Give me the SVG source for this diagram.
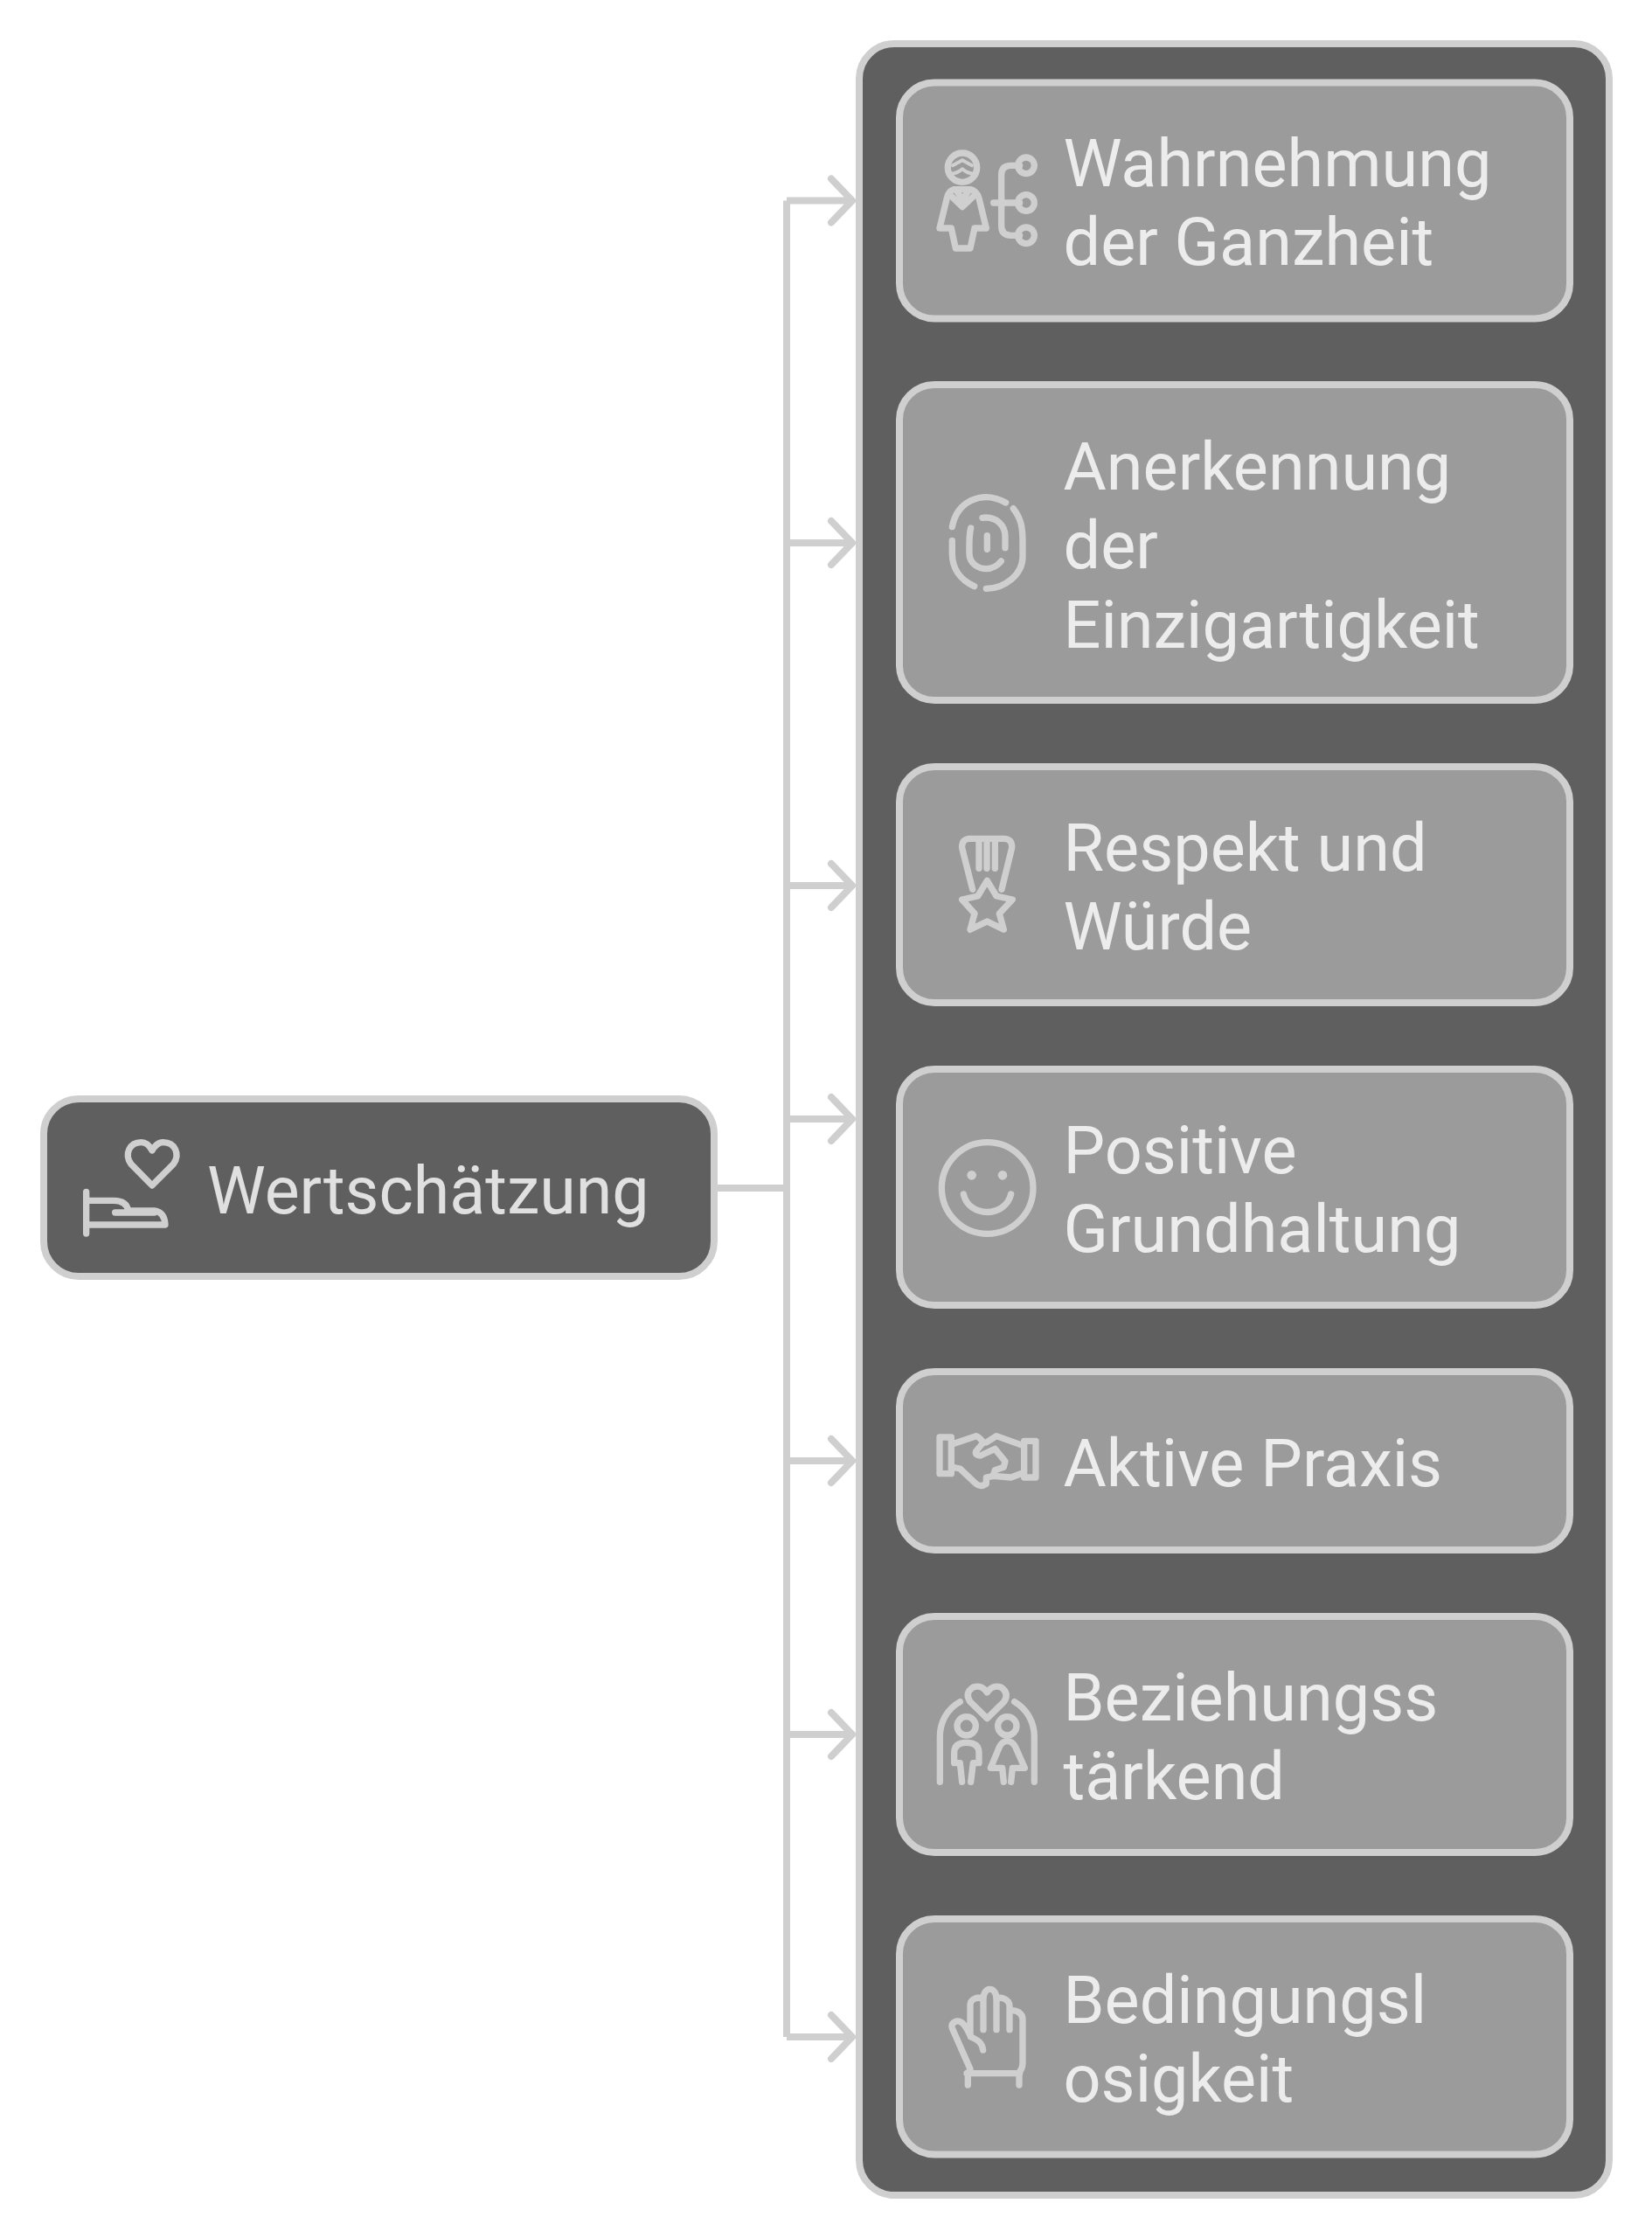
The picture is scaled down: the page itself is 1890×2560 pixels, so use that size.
<svg xmlns="http://www.w3.org/2000/svg" width="1890" height="2560" viewBox="0 0 1890 2560">
<style>
.box{fill:#9b9b9b;stroke:#cfcfcf;stroke-width:8}
.dark{fill:#5f5f5f;stroke:#cfcfcf;stroke-width:8}
.t{font-family:Roboto,"Liberation Sans",sans-serif;font-size:75.6px;fill:#ececec}
.rt{fill:#e0e0e0;font-size:75.3px}
.ic{fill:none;stroke:#cfcfcf;stroke-width:22;stroke-linecap:round;stroke-linejoin:round}
.c{fill:none;stroke:#cfcfcf;stroke-width:8}
</style>
<defs>
<marker id="arr" markerUnits="userSpaceOnUse" markerWidth="60" markerHeight="70" viewBox="-40 -35 60 70" refX="0" refY="0" orient="auto"><path d="M-24,-25L0,0L-24,25" fill="none" stroke="#cfcfcf" stroke-width="8" stroke-linecap="round"/></marker>
</defs>
<rect width="1890" height="2560" fill="#fff"/>
<g id="connectors">
<path class="c" d="M817,1359H900"/>
<path class="c" d="M900,229.500V2330"/>
<path class="c" marker-end="url(#arr)" d="M900,229.500H975"/>
<path class="c" marker-end="url(#arr)" d="M900,621H975"/>
<path class="c" marker-end="url(#arr)" d="M900,1013H975"/>
<path class="c" marker-end="url(#arr)" d="M900,1280H975"/>
<path class="c" marker-end="url(#arr)" d="M900,1671H975"/>
<path class="c" marker-end="url(#arr)" d="M900,1984H975"/>
<path class="c" marker-end="url(#arr)" d="M900,2330H975"/>
</g>
<g id="root">
<rect class="dark" x="50" y="1257" width="767" height="203" rx="40"/>
<g transform="translate(30,1240) scale(.3333)" class="ic">
<path d="M432,348L360,275C335,240 355,200 395,200C415,200 425,215 432,228C440,215 450,200 470,200C510,200 530,240 505,275Z"/>
<path d="M206,370V513M206,400H300Q345,400 350,435H440Q475,440 477,483H206M305,441H440"/>
</g>
<text class="t rt" x="237" y="1388">Wertschätzung</text>
</g>
<g id="container"><rect class="dark" x="983" y="50" width="858" height="2461" rx="40"/></g>
<g id="n1">
<rect class="box" x="1029" y="94.500" width="767" height="270" rx="40"/>
<g transform="translate(1000,60) scale(.3333)" class="ic">
<circle cx="303" cy="395" r="50"/>
<path stroke-width="12" d="M270,388L303,370L336,388M264,416Q285,416 303,400Q320,416 343,416"/>
<path d="M275,470Q255,475 250,500L225,603H265L280,672H330L345,603H385L360,500Q352,475 330,470Z"/>
<path d="M262,490L303,530L345,490M285,478L303,505L322,478"/>
<path d="M410,516H500M500,388H470Q437,388 437,420V595Q437,628 470,628H500"/>
<circle cx="522" cy="388" r="28"/><circle cx="522" cy="516" r="28"/><circle cx="522" cy="628" r="28"/>
</g>
<text class="t" x="1216.500" y="213">Wahrnehmung</text>
<text class="t" x="1216.500" y="303">der Ganzheit</text>
</g>
<g id="n2">
<rect class="box" x="1029" y="440" width="767" height="361" rx="40"/>
<g transform="translate(1040,530) scale(.3333)" class="ic">
<path d="M148,218C165,130 250,90 332,135M358,155C385,190 390,220 390,270V320C390,380 330,430 265,430M148,265V310C148,360 175,400 224,422"/>
<path d="M252,187C300,180 330,215 330,250V290M212,222C205,250 207,290 207,310C207,345 240,362 265,362C285,362 305,350 316,336M268,248V295"/>
</g>
<text class="t" x="1216.500" y="559.500">Anerkennung</text>
<text class="t" x="1216.500" y="650">der</text>
<text class="t" x="1216.500" y="740.500">Einzigartigkeit</text>
</g>
<g id="n3">
<rect class="box" x="1029" y="877" width="767" height="270" rx="40"/>
<g transform="translate(1060,930) scale(.3333)" class="ic">
<path d="M158,262L122,120Q120,88 150,88H265Q295,88 293,120L258,262M180,95V190M207,95V190M235,95V190"/>
<path d="M208,232L240,285L295,297L250,345L265,400L208,372L150,400L165,345L122,297L176,285Z"/>
</g>
<text class="t" x="1216.500" y="996">Respekt und</text>
<text class="t" x="1216.500" y="1086">Würde</text>
</g>
<g id="n4">
<rect class="box" x="1029" y="1223" width="767" height="270" rx="40"/>
<g transform="translate(1050,1280) scale(.3333)" class="ic">
<circle cx="239" cy="237" r="157"/>
<path d="M157,258C175,340 300,340 320,258"/>
<circle cx="185" cy="193" r="16" fill="#cfcfcf" stroke="none"/><circle cx="291" cy="193" r="16" fill="#cfcfcf" stroke="none"/>
</g>
<text class="t" x="1216.500" y="1342">Positive</text>
<text class="t" x="1216.500" y="1432">Grundhaltung</text>
</g>
<g id="n5">
<rect class="box" x="1029" y="1569" width="767" height="204" rx="40"/>
<g transform="translate(1050,1620) scale(.3333)" class="ic">
<rect x="75" y="72" width="40" height="125"/><rect x="365" y="85" width="40" height="125"/>
<path d="M120,95L200,68Q210,70 225,90L200,120Q195,135 215,135L265,112L300,155L295,175L265,185L260,200"/>
<path d="M235,90L270,68L360,100M360,195L320,210L260,205L235,210V232Q215,245 200,232L145,180L120,175"/>
</g>
<text class="t" x="1216.500" y="1700">Aktive Praxis</text>
</g>
<g id="n6">
<rect class="box" x="1029" y="1849" width="767" height="270" rx="40"/>
<g transform="translate(1050,1900) scale(.3333)" class="ic">
<path d="M238,197L180,140Q160,110 190,90Q220,80 238,108Q256,80 286,90Q316,110 296,140Z"/>
<path d="M145,140C100,165 76,210 76,260V415M332,140C375,165 400,210 400,260V415"/>
<circle cx="167" cy="223" r="32"/><circle cx="307" cy="223" r="32"/>
<path d="M145,350H125V315Q125,280 167,280Q210,280 210,315V350H190L182,415M145,350L152,415"/>
<path d="M290,367H250L280,295Q290,275 307,275Q325,275 335,295L367,367H325L320,415M290,367L295,415"/>
</g>
<text class="t" x="1216.500" y="1968">Beziehungss</text>
<text class="t" x="1216.500" y="2058">tärkend</text>
</g>
<g id="n7">
<rect class="box" x="1029" y="2195" width="767" height="269.500" rx="40"/>
<g transform="translate(1050,2250) scale(.3333)" class="ic">
<path d="M180,350L118,210C112,190 135,180 150,190C165,200 175,225 180,235V130C180,110 205,100 225,110M225,215V110C225,65 270,65 270,110V215M270,110C285,100 315,110 315,135V215M315,150C340,145 360,160 360,180V330Q360,345 350,360"/>
<path d="M168,365H350M172,362V405M348,362V405M182,240C205,250 222,260 224,285"/>
</g>
<text class="t" x="1216.500" y="2314">Bedingungsl</text>
<text class="t" x="1216.500" y="2404">osigkeit</text>
</g>
</svg>
